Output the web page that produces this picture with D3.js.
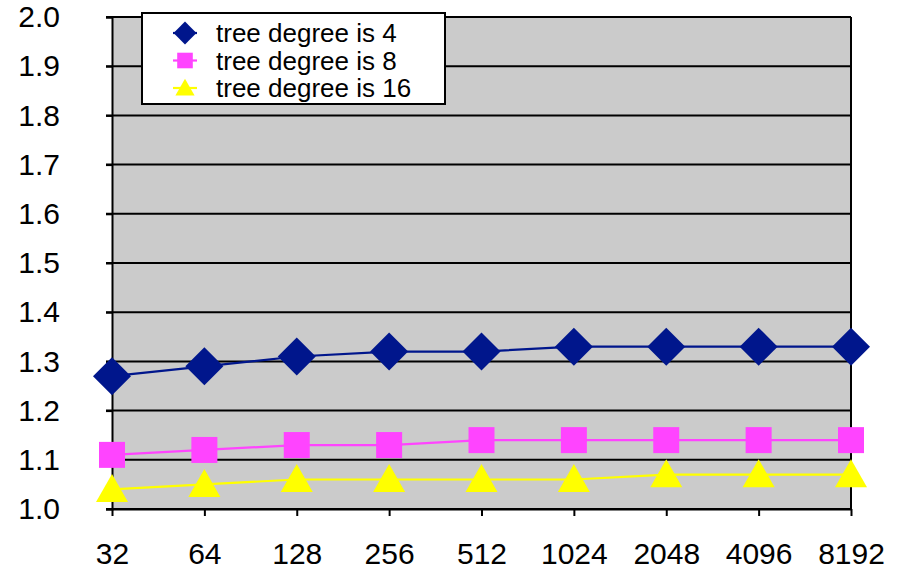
<!DOCTYPE html>
<html><head><meta charset="utf-8">
<script src="https://cdn.jsdelivr.net/npm/d3@7"></script>
<style>body{margin:0;background:#fff}svg{display:block;font-family:"Liberation Sans",Arial,sans-serif}</style>
</head><body><svg id="c" width="897" height="572"></svg>
<script>
const categories = ["32","64","128","256","512","1024","2048","4096","8192"];
const deg4 = [1.27,1.29,1.31,1.32,1.32,1.33,1.33,1.33,1.33];
const deg8 = [1.11,1.12,1.13,1.13,1.14,1.14,1.14,1.14,1.14];
const deg16 = [1.04,1.05,1.06,1.06,1.06,1.06,1.07,1.07,1.07];
const yTicks = [1.0,1.1,1.2,1.3,1.4,1.5,1.6,1.7,1.8,1.9,2.0];
const seriesNames = ["tree degree is 4","tree degree is 8","tree degree is 16"];

const svg = d3.select("#c");
const L=112,R=851,T=17,B=509;
const x = d3.scalePoint().domain(categories).range([L,R]).padding(0);
const y = d3.scaleLinear().domain([1.0,2.0]).range([B,T]);

svg.append("rect").attr("x",L).attr("y",T).attr("width",R-L).attr("height",B-T).attr("fill","#cbcbcb");

// gridlines
svg.append("g").selectAll("line").data(yTicks).join("line")
  .attr("x1",L-6).attr("x2",R).attr("y1",d=>y(d)).attr("y2",d=>y(d))
  .attr("stroke","#000").attr("stroke-width",2);
// right border
svg.append("line").attr("x1",R).attr("x2",R).attr("y1",T).attr("y2",B).attr("stroke","#000").attr("stroke-width",2);

// y axis
const ya = svg.append("g").attr("transform",`translate(${L},0)`)
  .call(d3.axisLeft(y).tickValues(yTicks).tickFormat(d3.format(".1f")).tickSize(6).tickPadding(46));
ya.select(".domain").attr("stroke-width",2);
ya.selectAll(".tick line").attr("stroke-width",2);
ya.selectAll("text").attr("font-size",30).attr("fill","#000").attr("font-family","Liberation Sans, Arial, sans-serif");

// x axis
const xa = svg.append("g").attr("transform",`translate(0,${B})`)
  .call(d3.axisBottom(x).tickSize(7).tickPadding(27).tickSizeOuter(0));
xa.select(".domain").attr("stroke-width",2);
xa.selectAll(".tick line").attr("stroke-width",2);
xa.selectAll("text").attr("font-size",30).attr("fill","#000").attr("font-family","Liberation Sans, Arial, sans-serif");

const series = [
  {name:seriesNames[0], vals:deg4, color:"#00168c", sym:"diamond", size:19},
  {name:seriesNames[1], vals:deg8, color:"#ff44ff", sym:"square", size:13},
  {name:seriesNames[2], vals:deg16, color:"#ffff00", sym:"triangle", size:16}
];

function markerPath(s, scale){
  const r = s.size*scale;
  if(s.sym==="diamond") return `M0,${-r}L${r},0L0,${r}L${-r},0Z`;
  if(s.sym==="square") return `M${-r},${-r}H${r}V${r}H${-r}Z`;
  const h=r*1.75;
  return `M0,${-h*0.55}L${r},${h*0.45}L${-r},${h*0.45}Z`;
}

const line = d3.line().x((d,i)=>x(categories[i])).y(d=>y(d));
series.forEach(s=>{
  svg.append("path").datum(s.vals).attr("d",line).attr("fill","none").attr("stroke",s.color).attr("stroke-width",2.2);
});
series.forEach(s=>{
  svg.append("g").selectAll("path").data(s.vals).join("path")
    .attr("transform",(d,i)=>`translate(${x(categories[i])},${y(d)})`)
    .attr("d",markerPath(s,1)).attr("fill",s.color);
});

// legend
const lg = svg.append("g");
lg.append("rect").attr("x",142).attr("y",13).attr("width",303).attr("height",91)
  .attr("fill","#fff").attr("stroke","#000").attr("stroke-width",2);
series.forEach((s,i)=>{
  const cy = 33 + i*27.5;
  lg.append("line").attr("x1",173).attr("x2",197).attr("y1",cy).attr("y2",cy).attr("stroke",s.color).attr("stroke-width",2.2);
  lg.append("path").attr("transform",`translate(185,${cy})`).attr("d",markerPath(s,0.6)).attr("fill",s.color);
  lg.append("text").attr("x",216).attr("y",cy+9).attr("font-size",26).text(s.name);
});
</script></body></html>
